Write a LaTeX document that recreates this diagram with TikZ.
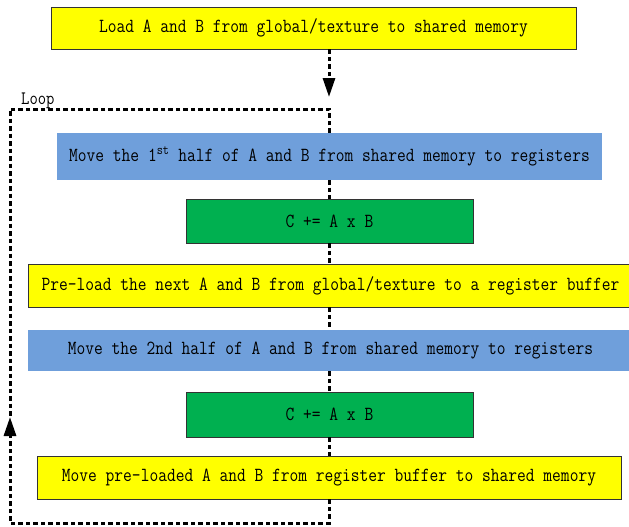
\documentclass[tikz,border=0pt]{standalone}
\usepackage{fontspec}
\newfontfamily\boxfont[FakeStretch=0.85]{Latin Modern Mono}
\usetikzlibrary{arrows.meta}
\definecolor{ybox}{HTML}{FFFF00}
\definecolor{bbox}{HTML}{6F9FDB}
\definecolor{gbox}{HTML}{00B050}
\tikzset{
  stepbox/.style={inner sep=0pt, font=\boxfont\fontsize{20}{22}\selectfont, text=black},
  ybx/.style={stepbox, fill=ybox, draw=black!80, line width=0.8pt},
  bbx/.style={stepbox, fill=bbox},
  gbx/.style={stepbox, fill=gbox, draw=black!80, line width=0.8pt},
  flow/.style={line width=3pt, dash pattern=on 4.5pt off 3pt, black},
  tip/.style={-{Triangle[length=19pt,width=12pt]}}
}
\begin{document}
\begin{tikzpicture}[x=1pt,y=-1pt]
\useasboundingbox (0,0) rectangle (629,527);
\node[ybx, minimum width=525pt, minimum height=42pt] (b1) at (313.5,28) {Load A and B from global/texture to shared memory};
\node[bbx, minimum width=545pt, minimum height=47pt] (b2) at (329.5,156.5) {Move the 1\textsuperscript{st} half of A and B from shared memory to registers};
\node[gbx, minimum width=287pt, minimum height=44pt] (b3) at (329.5,221) {C += A x B};
\node[ybx, minimum width=605pt, minimum height=43pt] (b4) at (330.5,285.5) {Pre-load the next A and B from global/texture to a register buffer};
\node[bbx, minimum width=605pt, minimum height=41pt] (b5) at (330.5,350.5) {Move the 2nd half of A and B from shared memory to registers};
\node[gbx, minimum width=287pt, minimum height=45pt] (b6) at (329.5,414.5) {C += A x B};
\node[ybx, minimum width=584pt, minimum height=43pt] (b7) at (329,477.5) {Move pre-loaded A and B from register buffer to shared memory};
\node[font=\boxfont\fontsize{19}{20}\selectfont, anchor=base west, inner sep=0pt] (loop) at (21,104) {Loop};
\coordinate (col) at (329,0);
\coordinate (entry) at (329,97);
\coordinate (tr) at (329,109);
\coordinate (tl) at (10,109);
\coordinate (bl) at (10,523);
\coordinate (br) at (329,523);
\coordinate (up) at (10,417);
\draw[flow, tip] (b1.south -| col) -- (entry);
\draw[flow] (b2.north -| col) -- (tr) -- (tl) -- (up);
\draw[flow, tip] (b7.south -| col) -- (br) -- (bl) -- (up);
\draw[flow] (b2.south -| col) -- (b3.north -| col);
\draw[flow] (b3.south -| col) -- (b4.north -| col);
\draw[flow] (b4.south -| col) -- (b5.north -| col);
\draw[flow] (b5.south -| col) -- (b6.north -| col);
\draw[flow] (b6.south -| col) -- (b7.north -| col);
\end{tikzpicture}
\end{document}
